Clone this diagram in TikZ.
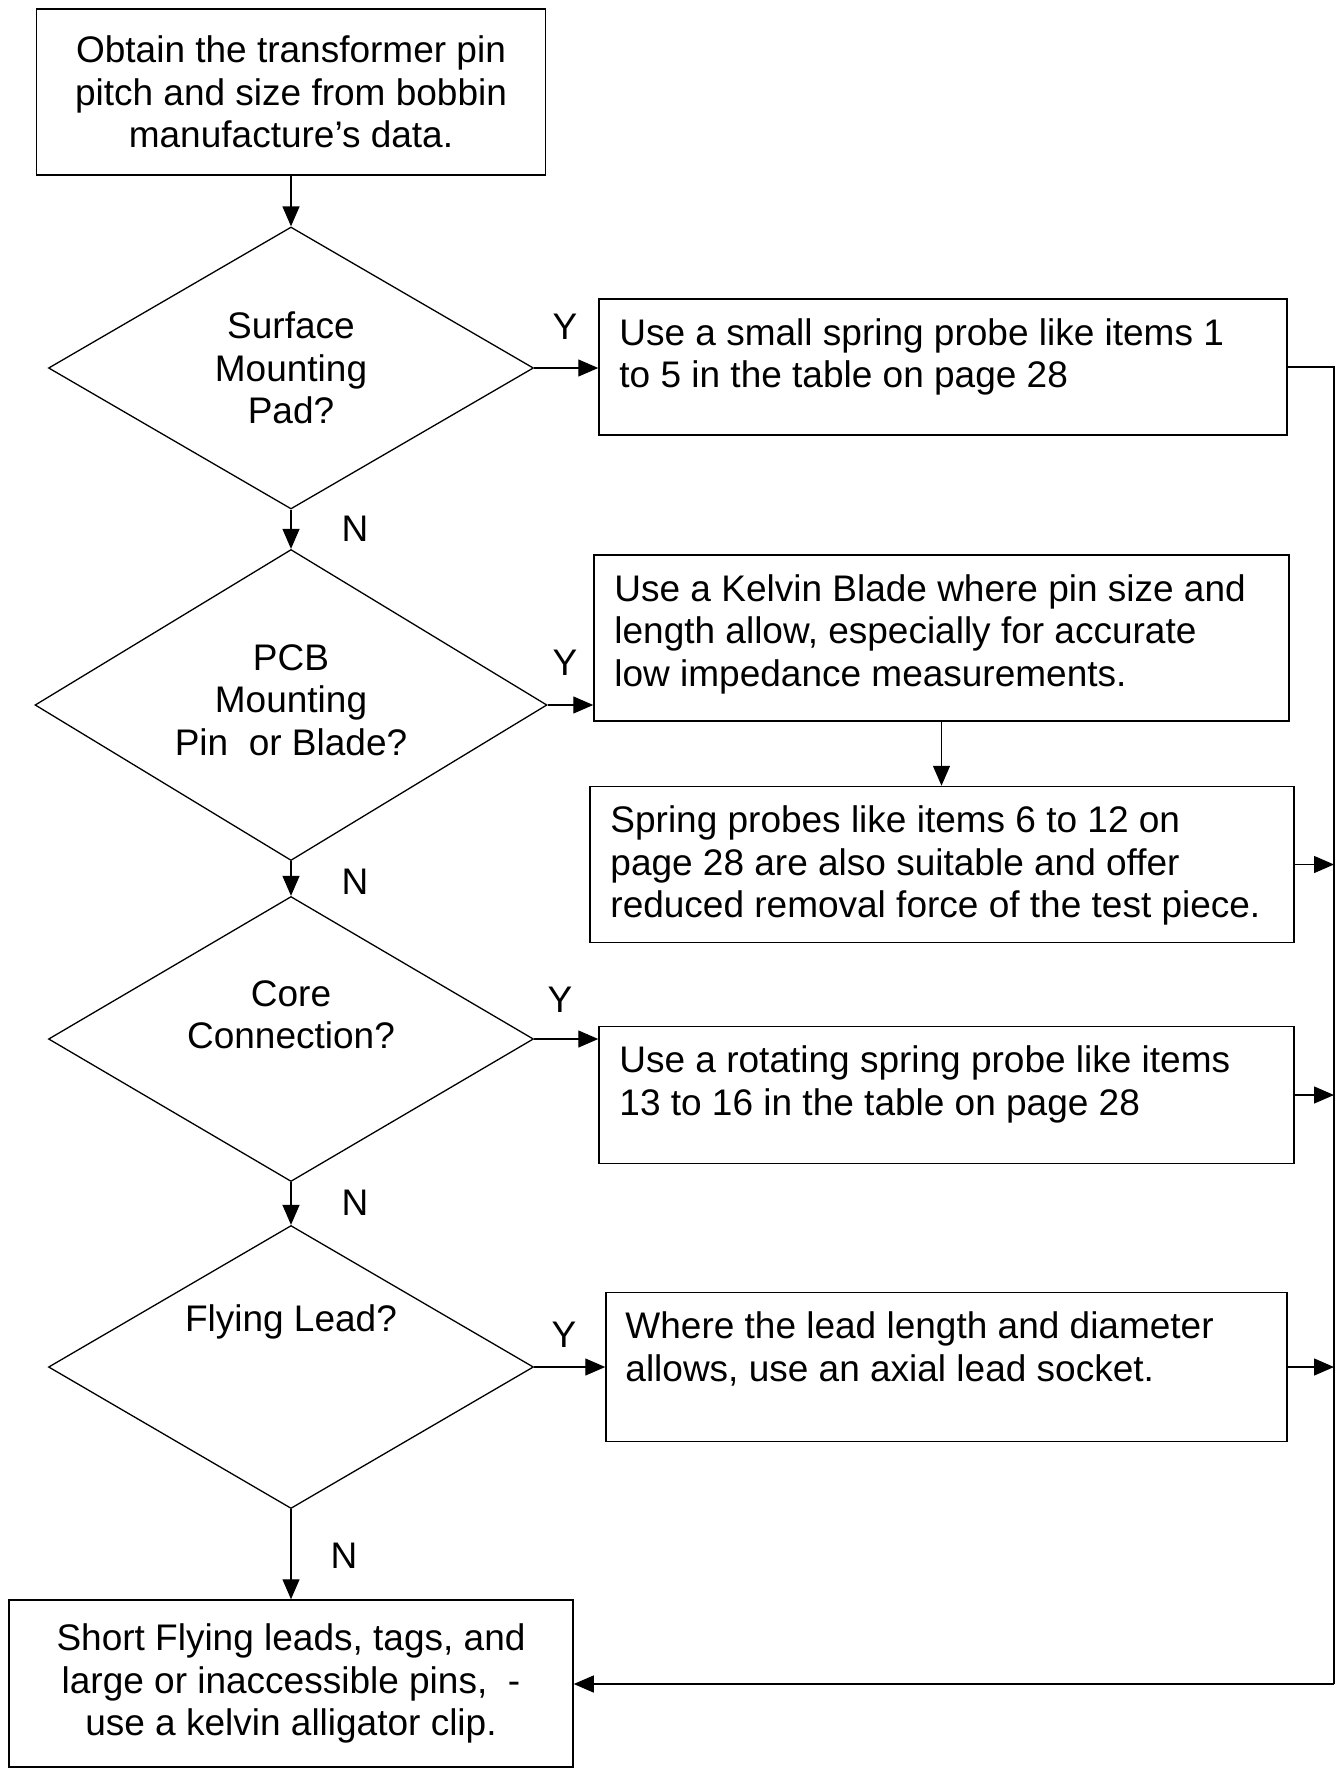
\documentclass[tikz,border=0pt]{standalone}
\usepackage{fontspec}
\setmainfont{Liberation Sans}
\usetikzlibrary{shapes.geometric,arrows.meta}
\tikzset{
  txt/.style={font=\fontsize{37pt}{42.5pt}\selectfont},
  stepbox/.style={draw, rectangle, line width=1.5pt, inner sep=0pt},
  ask/.style={draw, diamond, line width=1.3pt, inner sep=0pt, minimum width=485pt},
  boxtext/.style={txt, anchor=north west, inner sep=0pt, align=left},
  flow/.style={-{Triangle[length=20pt,width=17pt]}, line width=1.3pt},
}
\begin{document}
\begin{tikzpicture}[x=1pt,y=-1pt]
  \useasboundingbox (0,0) rectangle (1341,1769);

  % start and end of the chart
  \node[stepbox, txt, align=center, minimum width=509pt, minimum height=166pt] (start) at (291,92)
    {Obtain the transformer pin\\pitch and size from bobbin\\manufacture’s data.};
  \node[stepbox, txt, align=center, minimum width=564pt, minimum height=167pt] (clip) at (291,1683.5)
    {Short Flying leads, tags, and\\large or inaccessible pins,\ \ -\\use a kelvin alligator clip.};

  % questions
  \node[ask, minimum height=282pt] (qsmd) at (291,368) {};
  \node[ask, minimum width=512pt, minimum height=311pt] (qpcb) at (291,705) {};
  \node[ask, minimum height=285pt] (qcore) at (291,1039) {};
  \node[ask, minimum height=283pt] (qlead) at (291,1367) {};
  \node[txt, align=center] (tsmd) at (qsmd) {Surface\\Mounting\\Pad?};
  \node[txt, align=center] (tpcb) at ([yshift=5pt]qpcb) {PCB\\Mounting\\Pin\ \ or Blade?};
  \node[txt, align=center] (tcore) at ([yshift=24pt]qcore) {Core\\Connection?};
  \node[txt, align=center] (tlead) at ([yshift=45pt]qlead) {Flying Lead?};

  % answers
  \node[stepbox, minimum width=688pt, minimum height=136pt] (asmall) at (943,367) {};
  \node[stepbox, minimum width=695pt, minimum height=166pt] (kelvin) at (941.5,638) {};
  \node[stepbox, minimum width=704pt, minimum height=156pt] (spring) at (942,864.5) {};
  \node[stepbox, minimum width=695pt, minimum height=137pt] (rotate) at (946.5,1095) {};
  \node[stepbox, minimum width=681pt, minimum height=149pt] (socket) at (946.5,1367) {};
  \node[boxtext] (tsmall) at ([shift={(21,20)}]asmall.north west)
    {Use a small spring probe like items 1\\to 5 in the table on page 28};
  \node[boxtext] (tkelvin) at ([shift={(21,20)}]kelvin.north west)
    {Use a Kelvin Blade where pin size and\\length allow, especially for accurate\\low impedance measurements.};
  \node[boxtext] (tspring) at ([shift={(21,20)}]spring.north west)
    {Spring probes like items 6 to 12 on\\page 28 are also suitable and offer\\reduced removal force of the test piece.};
  \node[boxtext] (trotate) at ([shift={(21,20)}]rotate.north west)
    {Use a rotating spring probe like items\\13 to 16 in the table on page 28};
  \node[boxtext] (tsocket) at ([shift={(20,20)}]socket.north west)
    {Where the lead length and diameter\\allows, use an axial lead socket.};

  % Y / N labels
  \node[txt] (y1) at (565,327) {Y};
  \node[txt] (y2) at (565,663) {Y};
  \node[txt] (y3) at (560,1000) {Y};
  \node[txt] (y4) at (564,1335) {Y};
  \node[txt] (n1) at (355,529) {N};
  \node[txt] (n2) at (355,882) {N};
  \node[txt] (n3) at (355,1203) {N};
  \node[txt] (n4) at (344,1556) {N};

  % connectors
  \foreach \a/\b in {start/qsmd, qsmd/qpcb, qpcb/qcore, qcore/qlead, qlead/clip}
    \draw[flow] (\a.south) -- (\b.north);
  \foreach \q/\a in {qsmd/asmall, qpcb/kelvin, qcore/rotate, qlead/socket}
    \draw[flow] (\q.east) -- (\q.east -| \a.west);
  \draw[flow] (kelvin.south) -- (kelvin.south |- spring.north);

  % return rail on the right
  \coordinate (railtop) at (1334,367);
  \coordinate (railbot) at (1334,1684);
  \draw[line width=1.3pt] (asmall.east) -- (railtop) -- (railbot);
  \foreach \b in {spring, rotate, socket}
    \draw[flow] (\b.east) -- (\b.east -| railtop);
  \draw[flow] (railbot) -- (railbot -| clip.east);
\end{tikzpicture}
\end{document}
